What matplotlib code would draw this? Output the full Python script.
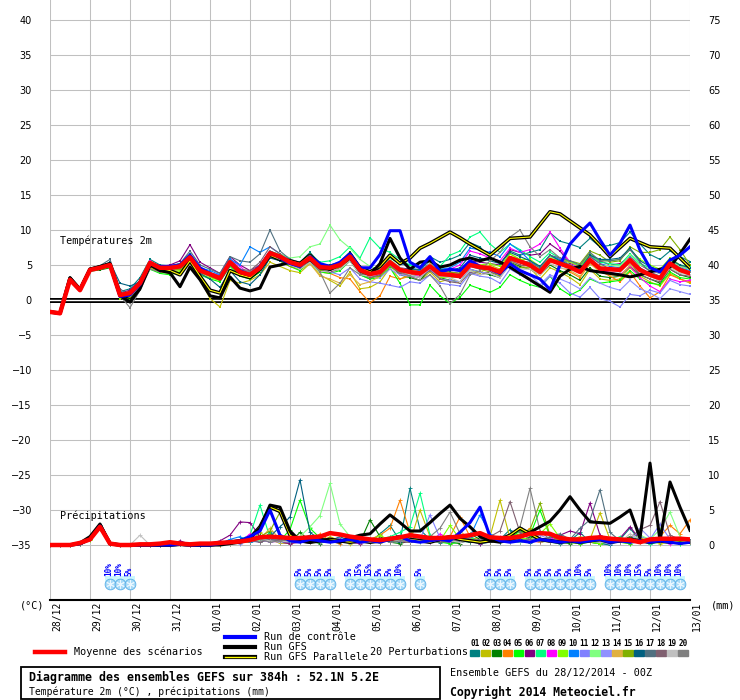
import numpy as np
import matplotlib.pyplot as plt
from matplotlib import transforms
from matplotlib.lines import Line2D
from matplotlib.patches import Rectangle

W, H = 740, 700
MONO = 'DejaVu Sans Mono'

days = ['28/12', '29/12', '30/12', '31/12', '01/01', '02/01', '03/01', '04/01', '05/01',
        '06/01', '07/01', '08/01', '09/01', '10/01', '11/01', '12/01', '13/01']
steps = np.arange(65)  # 6-hourly, 0..384h

# temperature 2m (deg C)
t_mean = [-1.7,-1.9,2.9,1.4, 4.3,4.6,5.0,0.7, 1.0,2.4,5.3,4.6, 4.6,4.8,6.1,4.2, 3.7,3.1,5.4,4.0, 3.6,4.6,6.7,6.2, 5.4,5.0,6.0,4.7, 4.6,5.0,6.2,4.3, 3.7,4.0,5.4,4.3, 4.0,3.8,4.8,3.7, 3.6,3.4,5.0,4.7, 4.5,4.0,6.0,5.5, 5.0,4.0,5.7,5.2, 4.7,4.0,5.7,4.5, 4.4,4.3,5.7,4.3, 3.6,3.1,5.2,4.3, 3.8]
t_ctrl = [-1.7,-1.9,2.9,1.4, 4.3,4.6,5.0,0.5, 0.7,2.2,5.2,4.8, 4.8,5.0,6.4,4.6, 3.8,3.0,5.2,4.2, 3.6,4.8,6.8,6.0, 5.2,4.8,6.2,5.2, 4.8,5.4,6.6,4.6, 4.6,6.5,9.9,9.9, 5.4,4.6,6.2,4.0, 4.4,4.2,5.6,4.8, 4.4,3.8,5.2,4.2, 3.6,3.0,1.5,5.0, 8.0,9.6,11.0,8.6, 6.4,8.1,10.7,7.1, 4.6,4.0,5.7,6.4, 7.6]
t_gfs = [-1.7,-1.9,3.2,1.5, 4.4,4.8,5.2,0.6, -0.3,1.6,5.0,4.2, 3.9,1.9,4.7,2.9, 0.6,0.3,3.3,1.7, 1.3,1.7,4.7,5.0, 5.4,5.0,5.8,4.6, 4.4,5.0,6.0,4.2, 3.6,5.2,8.8,6.0, 4.4,5.4,5.6,4.7, 5.0,5.7,6.0,5.6, 6.0,5.4,4.7,3.8, 2.9,2.0,1.1,3.4, 4.4,4.8,4.2,4.0, 3.8,3.6,3.3,3.6, 4.0,4.4,4.7,6.6, 8.7]
t_para = [-1.7,-1.9,3.1,1.5, 4.4,4.7,5.1,0.8, 0.4,2.0,5.2,4.4, 4.2,3.6,5.6,3.4, 1.4,1.0,4.2,3.6, 3.2,4.4,6.4,5.8, 5.6,5.2,6.4,5.0, 4.4,5.2,6.6,4.6, 4.0,4.8,6.4,5.2, 6.0,7.4,8.1,8.9, 9.7,8.9,8.0,7.2, 6.4,7.6,8.8,8.9, 9.0,10.8,12.6,12.3, 11.3,10.3,9.3,7.8, 6.2,7.5,8.8,8.2, 7.6,7.5,7.4,6.0, 4.6]

t01 = [-1.7,-1.9,3.0,1.5, 4.4,4.8,5.3,1.2, 1.6,3.2,5.8,5.0, 4.9,5.2,6.6,4.6, 3.9,3.5,5.9,4.4, 3.2,4.0,6.2,5.8, 5.6,5.4,6.8,5.2, 4.2,4.6,5.8,3.6, 3.0,3.8,6.0,5.2, 5.0,4.6,6.2,5.4, 5.8,6.4,8.2,7.6, 6.0,5.2,7.0,6.4, 6.8,7.2,9.6,8.4, 8.0,7.5,8.8,7.6, 7.8,8.2,9.7,8.0, 6.5,5.8,7.0,6.2, 5.5]
t02 = [-1.7,-1.9,2.9,1.4, 4.2,4.5,4.8,0.4, 0.5,2.0,4.6,4.0, 3.8,4.2,5.4,3.0, 0.2,-1.0,2.8,2.4, 2.8,3.6,5.4,4.8, 4.2,3.9,5.2,3.6, 2.8,2.0,4.0,1.6, 1.8,2.6,4.6,3.0, 3.4,2.8,4.0,2.6, 3.0,2.4,4.2,3.8, 5.0,4.4,6.6,5.8, 4.6,3.0,4.6,4.0, 3.2,2.2,4.4,3.0, 2.8,3.0,4.6,3.4, 2.6,2.0,3.8,3.0, 2.4]
t03 = [-1.7,-1.9,2.9,1.4, 4.1,4.3,4.6,0.2, 0.6,2.2,5.0,4.4, 4.4,4.6,5.8,4.0, 3.4,2.8,5.0,3.8, 3.8,4.8,7.0,6.4, 5.6,5.2,6.4,5.0, 5.0,5.4,6.8,4.8, 4.0,4.2,5.0,3.6, 3.2,2.8,4.4,3.2, 2.8,2.6,4.4,4.0, 3.6,3.2,5.4,4.8, 4.4,3.6,5.0,4.2, 3.6,2.8,4.6,3.4, 3.2,3.4,4.8,3.6, 3.0,2.4,4.4,3.6, 3.2]
t04 = [-1.7,-1.9,2.9,1.4, 4.3,4.6,5.1,0.9, 1.2,2.8,5.6,4.8, 4.5,4.6,6.0,4.0, 3.6,3.0,5.6,4.2, 3.4,4.2,6.4,5.6, 4.8,4.4,5.6,4.0, 3.8,3.2,3.0,1.2, -0.4,0.6,3.4,3.0, 3.6,3.8,5.0,3.8, 3.4,3.6,5.6,5.0, 4.8,4.2,6.2,5.8, 5.2,4.4,6.0,5.4, 4.0,3.2,5.2,4.2, 3.4,2.6,4.0,2.0, 0.3,1.2,3.6,3.0, 2.6]
t05 = [-1.7,-1.9,2.9,1.4, 4.2,4.4,4.7,0.4, 0.2,1.8,4.4,3.8, 3.6,4.0,5.6,3.6, 3.0,2.6,4.8,3.4, 3.0,4.0,6.2,5.6, 4.8,4.2,5.4,4.0, 3.8,4.2,5.6,3.6, 3.0,3.2,4.6,2.4, -0.7,-0.7,2.1,0.6, -0.5,0.4,2.1,1.6, 1.1,1.8,3.6,2.8, 2.2,1.8,3.4,1.6, 0.7,1.4,3.0,2.4, 2.6,2.8,4.2,3.0, 2.4,2.2,4.0,3.2, 3.0]
t06 = [-1.7,-1.9,2.9,1.4, 4.4,4.7,5.2,1.0, 1.4,2.8,5.4,4.8, 5.0,5.6,7.9,5.4, 4.6,3.8,6.2,5.0, 4.2,5.0,6.8,6.2, 5.2,4.8,5.8,4.4, 4.8,5.4,6.6,4.6, 4.2,4.4,5.6,4.6, 4.4,4.2,5.2,4.2, 4.0,3.8,5.6,5.4, 5.2,5.0,7.2,6.8, 6.4,6.6,8.0,7.0, 5.2,4.8,6.4,5.6, 5.0,5.2,6.2,5.0, 4.2,3.8,5.6,4.8, 4.4]
t07 = [-1.7,-1.9,2.9,1.4, 4.3,4.5,4.9,0.6, 0.9,2.4,5.4,4.6, 4.6,4.7,6.0,4.2, 3.8,3.4,5.6,4.4, 3.8,4.8,6.8,6.4, 5.6,5.4,6.6,5.4, 5.6,6.2,7.6,6.0, 8.9,7.4,6.8,5.8, 5.0,4.6,5.8,4.8, 6.4,7.0,9.0,9.7, 8.0,6.8,8.0,7.2, 6.2,5.4,6.8,6.0, 5.6,4.8,6.4,5.4, 5.2,5.0,6.6,5.2, 4.6,4.0,5.8,5.0, 4.8]
t08 = [-1.7,-1.9,2.9,1.4, 4.3,4.6,5.0,0.8, 1.0,2.6,5.6,4.6, 4.2,4.4,5.6,3.8, 3.8,3.6,5.8,4.8, 3.6,4.4,6.4,6.0, 5.2,4.8,5.8,4.6, 4.0,4.6,5.8,3.8, 3.4,3.6,5.0,3.8, 3.6,3.4,4.6,3.8, 4.4,5.0,7.0,6.6, 6.0,5.6,7.4,6.8, 7.2,8.0,9.7,7.4, 5.4,4.6,5.8,4.2, 4.0,3.6,4.8,3.2, 2.0,1.2,3.0,2.6, 2.8]
t09 = [-1.7,-1.9,2.9,1.4, 4.2,4.4,4.8,0.2, 0.4,2.0,4.8,4.2, 4.0,4.2,5.6,3.6, 3.2,2.8,5.0,3.8, 3.6,4.6,6.6,6.0, 5.2,4.6,5.6,4.2, 4.6,5.0,6.4,4.6, 4.0,4.2,5.4,4.0, 3.6,3.2,4.2,3.2, 3.2,3.4,5.2,5.0, 5.2,4.8,6.6,5.8, 5.8,4.8,6.2,5.6, 5.4,4.8,6.6,5.6, 5.6,5.8,7.2,5.8, 5.0,4.4,6.0,5.0, 4.6]
t10 = [-1.7,-1.9,2.9,1.4, 4.4,4.6,5.0,0.8, 1.2,2.6,5.4,4.8, 4.8,5.0,6.4,4.6, 4.2,3.6,5.8,5.0, 7.6,6.8,7.6,6.6, 5.8,5.2,6.2,5.0, 4.8,5.2,6.4,4.6, 4.0,4.6,6.2,5.4, 4.6,4.2,5.2,4.4, 4.6,5.4,7.4,7.2, 6.8,6.2,8.0,7.0, 5.6,4.6,6.4,5.8, 5.0,4.4,6.2,5.2, 4.8,4.6,6.0,4.6, 3.8,3.2,5.4,4.6, 4.2]
t11 = [-1.7,-1.9,2.9,1.4, 4.3,4.5,4.9,0.5, 0.8,2.2,5.0,4.4, 4.4,4.6,5.8,4.0, 3.4,3.0,5.2,3.8, 3.4,4.4,6.4,5.8, 5.0,4.6,5.6,4.2, 4.0,3.6,4.6,3.0, 2.6,2.4,2.1,1.8, 2.6,2.4,3.6,2.4, 2.2,2.0,3.8,3.4, 3.2,2.4,4.4,3.6, 2.8,1.8,3.4,2.4, 1.0,0.4,1.8,0.2, -0.2,-1.0,0.8,0.6, 1.4,1.0,2.8,2.2, 2.0]
t12 = [-1.7,-1.9,2.9,1.4, 4.4,4.7,5.1,0.9, 1.2,2.6,5.2,4.6, 4.6,4.8,6.2,4.4, 3.8,3.2,5.4,4.2, 3.8,4.8,6.8,6.6, 6.0,6.2,7.6,8.0, 10.7,8.6,7.4,5.8, 4.8,4.4,5.8,4.6, 4.2,4.0,5.0,4.0, 3.8,3.6,5.2,4.8, 4.6,4.2,6.2,5.6, 5.2,4.6,6.2,5.4, 4.8,4.2,5.8,4.8, 5.0,4.8,6.4,5.0, 4.4,3.8,5.6,4.8, 4.4]
t13 = [-1.7,-1.9,2.9,1.4, 4.2,4.5,4.9,0.6, 0.9,2.4,5.2,4.6, 4.6,4.8,6.2,4.2, 3.6,3.0,5.4,4.0, 3.4,4.4,6.4,5.8, 5.2,4.8,5.8,4.4, 4.2,4.6,5.8,4.0, 3.4,3.2,4.4,3.6, 3.4,3.2,4.4,3.0, 2.8,2.6,4.4,4.0, 3.8,3.2,5.0,4.4, 3.6,2.2,3.6,3.0, 2.4,1.6,3.2,2.4, 1.8,1.4,2.8,1.6, 1.0,0.2,1.6,1.2, 0.8]
t14 = [-1.7,-1.9,2.9,1.4, 4.3,4.6,5.0,0.8, 1.0,2.4,5.2,4.4, 4.2,4.4,5.8,3.8, 3.4,2.8,5.2,3.8, 3.6,4.4,6.4,6.0, 5.0,4.4,5.2,3.4, 3.0,2.4,3.6,2.2, 2.6,3.4,5.2,4.2, 4.2,4.0,5.2,4.0, 3.8,3.6,5.4,5.0, 4.6,3.8,5.8,5.0, 4.4,3.6,5.2,4.6, 4.2,3.4,5.2,4.0, 3.6,3.4,5.0,3.8, 3.4,2.8,4.8,4.0, 3.6]
t15 = [-1.7,-1.9,2.9,1.4, 4.2,4.4,4.8,0.4, 0.6,2.0,4.8,4.2, 4.2,4.4,5.8,4.0, 3.4,2.8,5.0,3.6, 3.2,4.2,6.2,5.6, 4.8,4.4,5.6,4.2, 4.2,4.6,5.8,4.0, 3.2,3.4,4.8,3.8, 4.2,4.4,5.8,4.4, 4.0,3.8,5.2,4.4, 4.0,3.4,5.4,4.6, 4.6,3.8,5.8,5.6, 5.6,5.2,7.0,6.4, 5.4,5.6,7.6,6.8, 6.8,7.2,9.0,7.2, 5.0]
t16 = [-1.7,-1.9,2.9,1.4, 4.4,4.8,5.4,2.4, 2.0,2.6,5.0,4.4, 4.4,4.6,5.8,3.8, 3.0,1.8,4.2,2.6, 2.2,3.6,6.0,5.6, 5.0,4.6,5.8,4.6, 4.6,5.0,6.4,4.4, 3.8,4.2,5.6,4.4, 4.4,4.4,5.6,4.4, 4.2,4.6,6.4,6.0, 5.6,5.2,6.8,6.2, 5.6,4.8,6.4,5.6, 5.0,4.4,6.4,5.8, 5.8,6.0,7.4,5.6, 4.8,4.2,5.8,5.0, 4.6]
t17 = [-1.7,-1.9,2.9,1.4, 4.5,4.9,5.8,1.6, 0.6,1.8,4.8,4.2, 4.8,5.2,7.0,5.0, 4.4,3.8,6.2,5.6, 5.4,6.6,10.0,7.0, 5.8,5.4,6.4,5.0, 4.4,4.8,6.0,4.2, 3.6,3.8,5.2,4.2, 4.0,3.6,4.6,3.4, 3.4,3.2,4.8,4.4, 4.4,4.0,6.2,5.6, 5.4,4.6,6.4,6.0, 5.6,5.0,6.8,5.6, 5.6,5.8,7.2,5.4, 4.0,3.4,5.0,4.2, 4.0]
t18 = [-1.7,-1.9,2.9,1.4, 4.3,4.6,5.0,0.7, 0.8,2.2,5.0,4.4, 4.6,4.8,6.0,4.2, 3.8,3.4,5.6,4.4, 4.2,5.4,7.6,6.6, 5.4,4.8,5.8,4.4, 4.0,4.4,5.6,3.8, 3.2,3.6,5.0,3.8, 3.6,3.2,4.2,3.0, 2.6,2.4,4.0,3.6, 4.0,3.6,5.6,5.0, 4.8,4.0,5.6,5.0, 4.6,4.2,6.2,5.2, 4.4,4.2,5.4,3.6, 3.0,2.6,4.4,3.6, 3.4]
t19 = [-1.7,-1.9,2.9,1.4, 4.2,4.5,4.9,0.5, 0.9,2.3,5.2,4.6, 4.6,4.8,6.2,4.2, 3.6,3.0,5.2,3.8, 3.4,4.2,6.2,5.8, 5.0,4.4,5.4,4.0, 4.2,4.4,5.6,3.6, 3.4,3.8,5.2,4.0, 3.6,3.2,4.6,3.4, 3.2,2.6,4.2,3.6, 3.8,3.2,5.2,4.4, 4.4,3.6,5.2,4.6, 4.4,3.8,5.4,4.4, 4.2,4.0,5.4,4.0, 3.4,2.8,4.6,3.8, 3.6]
t20 = [-1.7,-1.9,2.9,1.4, 4.4,4.7,5.1,0.6, -1.1,1.4,4.4,4.0, 4.4,4.6,6.0,4.2, 3.6,3.2,5.6,4.4, 4.0,5.0,7.0,6.4, 5.2,4.6,5.6,4.0, 1.0,2.4,4.6,3.6, 3.8,4.0,5.2,4.0, 3.4,2.8,3.6,2.0, -0.5,0.8,3.6,4.2, 5.6,6.8,9.0,10.0, 7.6,6.2,7.2,6.0, 5.0,4.2,5.6,4.6, 4.6,4.4,5.8,4.4, 3.8,3.4,5.2,4.4, 4.0]

# precipitation (mm per 6h)
r_mean = [0,0,0,0.3, 0.8,2.6,0.2,0, 0,0.1,0.1,0.2, 0.4,0.2,0.1,0.2, 0.2,0.3,0.4,0.5, 0.7,1.1,1.2,1.1, 1.0,1.0,1.1,1.2, 1.7,1.5,1.2,1.0, 0.8,0.7,0.9,1.1, 1.4,1.2,1.0,1.0, 1.1,1.2,1.4,1.7, 1.1,1.0,1.0,1.2, 1.6,1.7,1.6,1.0, 0.8,0.8,1.0,1.1, 0.9,0.8,0.7,0.4, 0.8,0.9,0.9,0.9, 0.8]
r_ctrl = [0,0,0,0.2, 0.8,2.7,0.2,0, 0,0,0,0, 0,0.1,0,0, 0,0.2,0.4,0.6, 1.2,2.0,5.0,1.4, 0.6,0.4,0.8,0.6, 0.4,0.6,0.8,0.4, 0.6,0.4,0.8,1.2, 0.6,0.4,0.6,0.8, 0.6,1.8,3.2,5.4, 1.2,0.6,0.4,0.6, 0.4,0.8,0.6,0.4, 0.6,0.4,0.6,0.8, 0.4,0.6,0.4,0.6, 0.4,0.6,0.4,0.2, 0.4]
r_gfs = [0,0,0,0.3, 1.2,3.0,0.2,0, 0,0,0,0, 0,0.1,0,0, 0,0,0.2,0.4, 1.0,2.4,5.7,5.4, 2.0,0.6,0.4,0.8, 0.6,0.4,1.0,1.4, 1.6,3.0,4.3,3.2, 2.0,2.0,3.2,4.5, 5.7,3.8,2.6,1.2, 0.6,0.4,0.8,1.2, 1.8,2.6,3.4,5.0, 6.9,5.0,3.3,3.2, 3.1,4.0,5.0,1.0, 11.7,0.6,9.0,5.4, 2.1]
r_para = [0,0,0,0.2, 0.9,2.8,0.2,0, 0,0,0,0, 0,0.1,0,0, 0,0.2,0.4,0.6, 1.0,2.6,5.4,4.8, 1.4,0.6,0.4,0.6, 0.8,0.6,0.4,0.6, 0.4,0.6,0.8,1.2, 0.8,0.6,0.4,0.8, 1.2,0.8,0.6,0.4, 0.6,0.8,1.4,2.4, 1.6,0.8,0.6,0.4, 0.6,0.4,0.6,0.8, 0.4,0.6,0.8,0.6, 0.4,0.6,0.4,0.6, 0.4]

r01 = [0,0,0,0.2, 0.9,2.8,0.3,0, 0,0,0.1,0, 0,0.2,0,0, 0,0.1,0.3,0.6, 1.2,0.4,1.8,0.6, 0.3,0.8,1.4,0.4, 0.6,1.2,0.5,0.8, 0.4,1.6,2.8,0.6, 8.1,2.2,0.8,0.3, 0.6,1.4,0.5,0.2, 0.4,0.8,2.2,0.6, 0.3,1.0,0.4,0.2, 0.6,1.8,0.4,0.2, 0,0.8,2.4,0.6, 0.2,1.2,0.6,0.4, 0.3]
r02 = [0,0,0,0.1, 0.7,2.4,0.2,0, 0,0,0,0, 0.1,0.3,0,0, 0,0,0.2,0.4, 0.6,1.8,0.8,0.3, 0.2,0.6,1.0,0.4, 1.2,0.6,0.2,0.8, 0.4,0.3,1.1,0.6, 0.4,5.0,1.2,0.6, 0.2,0.6,1.0,0.8, 1.2,6.4,1.0,0.4, 0.8,0.6,0.4,1.4, 0.6,1.2,0.8,4.6, 0.8,0.4,0.2,1.0, 0.6,0.2,0.4,1.0, 0.6]
r03 = [0,0,0,0.2, 0.8,2.5,0.1,0, 0,0,0,0.1, 0,0.1,0,0, 0,0.2,0.4,0.3, 0.8,1.4,0.6,1.2, 0.4,1.8,0.6,0.2, 0.8,0.6,1.2,0.4, 3.6,1.2,0.4,0.2, 0.6,0.8,0.4,1.0, 0.4,0.2,1.6,0.8, 0.4,1.0,0.6,0.4, 1.2,0.6,0.8,0.4, 0.2,0.6,0.4,0.2, 0.4,0.6,1.2,0.6, 0.8,0.4,1.0,0.6, 0.4]
r04 = [0,0,0,0.2, 0.9,2.6,0.2,0, 0,0,0,0, 0,0.2,0.1,0, 0.1,0,0.2,0.4, 0.4,1.0,0.6,0.4, 1.0,0.6,0.4,1.6, 0.6,0.2,1.0,0.6, 0.8,1.4,2.4,6.4, 1.8,0.6,0.4,0.8, 1.2,4.0,1.2,0.6, 0.4,0.8,0.6,1.2, 2.4,0.8,0.4,0.6, 0.4,0.2,0.8,0.6, 0.4,1.0,0.6,0.8, 0.4,1.2,2.8,1.6, 3.6]
r05 = [0,0,0,0.1, 0.8,2.4,0.2,0, 0,0,0,0, 0,0.1,0,0.1, 0,0.1,0.2,0.6, 0.4,0.8,1.6,0.6, 2.2,6.4,2.4,1.0, 0.4,0.8,0.6,0.4, 0.6,0.8,0.4,1.2, 0.6,0.4,0.8,0.4, 0.2,0.4,0.6,0.8, 0.4,0.6,1.0,2.0, 1.4,5.0,1.2,0.6, 0.4,0.2,0.4,0.2, 0.6,0.4,0.2,0.8, 0.4,0.6,0.4,0.2, 0.4]
r06 = [0,0,0,0.2, 0.8,2.7,0.2,0, 0,0,0,0, 0,0.6,0.1,0, 0.2,0.6,1.4,3.3, 3.2,1.2,0.6,0.4, 0.2,0.4,0.8,0.6, 0.4,0.6,0.4,0.2, 0.6,0.4,0.8,0.4, 0.4,0.6,1.0,0.4, 0.8,0.4,0.6,0.2, 0.6,0.4,0.8,0.6, 0.4,0.6,1.0,1.4, 2.0,1.6,6.0,1.4, 0.6,1.0,2.6,0.8, 0.4,0.6,0.4,0.8, 0.4]
r07 = [0,0,0,0.2, 0.8,2.6,0.2,0, 0,0,0,0, 0,0.1,0,0, 0,0.2,0.4,0.8, 1.4,5.7,1.0,0.6, 0.8,0.4,0.6,1.2, 0.6,0.8,0.4,0.6, 0.4,0.8,1.2,1.8, 2.6,7.4,1.4,0.6, 0.8,0.6,1.2,0.4, 0.6,0.4,0.8,0.6, 0.8,0.4,0.6,0.6, 0.4,0.6,0.8,0.4, 0.6,1.2,0.4,0.6, 0.2,0.4,0.6,0.2, 0.4]
r08 = [0,0,0,0.2, 0.9,2.5,0.3,0, 0,0,0,0, 0.1,0.2,0,0, 0,0.1,0.2,0.4, 1.6,0.8,0.4,0.6, 0.4,0.6,0.8,0.4, 0.6,0.4,1.0,0.8, 0.4,0.6,0.8,0.6, 0.8,0.6,0.4,1.6, 0.6,1.0,0.8,0.4, 0.4,1.2,0.6,0.8, 0.6,0.4,1.0,0.6, 0.4,0.6,0.4,0.8, 1.0,0.6,0.4,0.6, 0.4,0.8,0.2,0.6, 0.4]
r09 = [0,0,0,0.2, 0.7,2.3,0.1,0, 0,0,0,0, 0,0.1,0,0, 0,0.3,0.2,0.6, 0.8,0.4,1.2,0.8, 0.4,1.0,0.6,0.8, 0.6,0.4,0.8,0.4, 0.6,1.4,0.6,0.8, 0.4,0.8,1.2,0.6, 2.8,0.8,0.4,0.6, 0.6,0.4,0.8,1.0, 0.8,1.6,3.0,1.0, 0.4,0.6,0.4,0.2, 0.6,0.8,0.6,0.4, 0.6,0.4,0.8,0.6, 0.4]
r10 = [0,0,0,0.2, 0.8,2.6,0.2,0, 0,0,0,0, 0,0.2,0,0, 0,0.2,0.8,1.2, 0.4,0.6,0.8,0.4, 0.6,0.4,1.2,0.6, 0.8,0.6,0.4,0.8, 0.6,0.4,0.6,1.0, 1.4,0.6,0.8,0.6, 0.4,0.8,1.2,4.3, 1.6,0.8,0.4,0.6, 0.4,0.8,0.6,0.4, 0.6,0.4,0.8,0.4, 0.6,0.4,0.6,0.8, 0.4,0.6,0.4,0.4, 0.6]
r11 = [0,0,0,0.2, 0.8,2.5,0.2,0, 0,0,0,0, 0,0.1,0,0, 0,0.2,0.4,0.2, 0.6,0.4,0.8,0.6, 0.4,0.6,0.8,0.4, 0.6,1.0,0.4,0.6, 0.4,0.6,0.8,1.2, 1.6,0.8,4.3,1.0, 0.6,0.4,0.6,0.8, 0.4,0.6,0.8,0.4, 0.6,0.8,0.4,0.6, 0.8,0.4,0.6,0.4, 0.2,0.4,0.8,1.2, 0.8,3.0,0.8,0.4, 0.6]
r12 = [0,0,0,0.2, 0.9,2.7,0.2,0, 0,0,0,0, 0,0.2,0,0, 0,0.1,0.3,0.6, 0.8,0.6,1.0,0.8, 0.6,1.2,2.6,4.2, 8.8,3.0,1.2,0.8, 0.6,0.4,0.8,0.6, 0.4,1.2,0.6,0.4, 0.8,0.6,0.4,0.6, 1.0,0.8,0.6,0.4, 0.6,0.8,0.4,0.6, 0.4,0.6,0.8,0.6, 0.8,0.4,0.6,1.4, 0.8,2.2,4.7,1.2, 0.6]
r13 = [0,0,0,0.2, 0.8,2.6,0.2,0, 0,0,0,0, 0,0.1,0,0, 0,0.2,0.3,0.4, 0.6,0.8,0.4,0.6, 0.8,0.4,0.6,0.8, 0.4,0.6,0.8,0.4, 0.6,0.8,0.4,0.6, 0.8,0.6,0.4,0.6, 0.4,0.6,0.8,0.6, 0.8,0.4,0.6,0.8, 0.6,1.4,0.8,0.4, 0.6,0.4,0.6,0.8, 0.4,0.6,0.4,2.4, 1.0,0.6,0.4,0.6, 0.4]
r14 = [0,0,0,0.2, 0.8,2.6,0.2,0, 0,0,0,0, 0,0.2,0,0, 0,0.1,0.2,0.4, 0.6,0.8,2.4,0.8, 0.6,0.4,0.8,0.6, 0.4,0.8,0.6,0.4, 0.6,0.4,0.8,0.6, 0.4,0.6,0.8,0.4, 0.6,2.0,0.8,0.6, 0.4,0.6,0.4,0.8, 0.6,0.4,0.6,0.4, 0.8,0.6,0.4,0.6, 0.4,0.8,0.6,0.4, 0.6,0.4,0.8,0.6, 0.4]
r15 = [0,0,0,0.2, 0.8,2.5,0.2,0, 0,0,0,0, 0,0.1,0,0, 0,0.2,0.3,0.6, 0.8,1.2,2.0,4.7, 1.2,0.6,0.4,0.8, 0.6,0.4,0.8,0.6, 0.4,0.6,0.8,0.4, 0.6,0.8,0.6,0.4, 0.6,0.4,0.8,0.6, 0.4,0.8,1.2,1.6, 2.2,6.0,1.4,0.6, 0.4,0.6,0.8,0.4, 0.6,0.4,0.8,0.6, 0.4,0.6,0.4,0.6, 0.4]
r16 = [0,0,0,0.2, 0.8,2.6,0.2,0, 0,0,0,0, 0,0.1,0,0, 0,0.2,0.4,0.6, 0.6,1.0,1.2,2.6, 4.0,9.3,1.8,0.8, 0.6,0.4,0.8,0.6, 0.4,0.8,0.6,0.4, 0.8,0.6,1.0,0.6, 0.4,0.6,0.4,0.8, 0.6,0.4,0.6,0.8, 0.4,0.8,0.6,0.4, 0.6,0.4,0.8,0.6, 0.4,0.6,0.4,0.8, 0.6,0.4,0.6,0.4, 0.6]
r17 = [0,0,0,0.2, 0.8,2.6,0.2,0, 0,0,0,0, 0,0.2,0,0, 0,0.1,0.2,0.4, 0.6,0.8,0.6,0.8, 0.4,0.6,0.8,1.0, 0.6,0.4,0.6,0.8, 0.4,0.6,1.0,0.6, 0.4,0.8,0.6,0.4, 0.6,0.8,0.6,0.4, 0.6,0.8,0.4,0.6, 0.8,0.6,1.2,1.6, 0.8,2.4,3.6,7.9, 1.8,0.6,0.4,0.6, 0.4,0.6,0.8,0.4, 0.6]
r18 = [0,0,0,0.2, 0.8,2.6,0.2,0, 0,0,0,0, 0,0.2,0,0, 0,0.2,0.3,0.4, 0.6,0.4,0.8,0.6, 0.8,0.6,0.4,0.6, 0.6,0.8,0.6,0.4, 0.6,0.4,0.8,0.6, 0.4,0.6,0.8,0.6, 0.4,0.8,0.6,0.8, 1.2,2.0,6.2,1.8, 0.8,0.6,0.4,0.6, 0.4,0.6,0.8,0.6, 0.6,0.8,1.0,2.2, 2.8,6.2,1.4,0.8, 0.6]
r19 = [0,0,0,0.2, 0.8,2.5,0.2,0, 0,1.4,0,0, 0,0.1,0,0, 0,0.2,0.2,0.4, 0.6,0.8,0.6,0.4, 0.6,0.8,0.4,0.6, 0.8,0.6,0.4,0.6, 0.4,0.6,0.8,0.6, 0.6,0.4,0.6,0.8, 0.6,0.4,0.8,0.6, 0.8,0.6,0.4,0.6, 0.4,0.8,0.6,0.4, 0.6,0.8,0.6,0.4, 0.6,0.4,1.6,0.8, 0.4,0.6,0.8,0.6, 0.4]
r20 = [0,0,0,0.2, 0.8,2.6,0.2,0, 0,0,0,0, 0,0.1,0,0, 0,0.2,0.3,0.4, 0.6,0.8,0.4,0.6, 0.8,0.6,0.4,0.6, 0.4,0.6,0.8,1.0, 0.6,0.8,0.4,0.6, 0.8,0.6,1.2,2.4, 4.7,1.6,0.8,0.6, 0.4,0.8,1.2,2.6, 8.1,2.0,0.8,0.4, 0.6,0.4,0.6,0.8, 0.6,0.4,0.6,0.4, 0.6,0.8,0.4,0.6, 0.4]

t_perts = [t01, t02, t03, t04, t05, t06, t07, t08, t09, t10, t11, t12, t13, t14, t15, t16, t17, t18, t19, t20]
r_perts = [r01, r02, r03, r04, r05, r06, r07, r08, r09, r10, r11, r12, r13, r14, r15, r16, r17, r18, r19, r20]
pert_colors = ['#008080', '#c0c000', '#008000', '#ff8000', '#00ff00', '#800080', '#00ff80', '#ff00ff',
               '#80ff00', '#0080ff', '#8080ff', '#80ff80', '#9090ff', '#e0b040', '#80b000', '#006080',
               '#507080', '#806070', '#c0c0c0', '#808080']

# snow probability (step index, %)
snow_idx = [6, 7, 8, 25, 26, 27, 28, 30, 31, 32, 33, 34, 35, 37, 44, 45, 46,
            48, 49, 50, 51, 52, 53, 54, 56, 57, 58, 59, 60, 61, 62, 63]
snow_pct = [10, 10, 5, 5, 5, 5, 5, 5, 15, 15, 5, 5, 10, 5, 5, 5, 5,
            5, 5, 5, 5, 5, 10, 5, 10, 10, 10, 15, 5, 10, 10, 10]

for s in t_perts + r_perts + [t_mean, t_ctrl, t_gfs, t_para, r_mean, r_ctrl, r_gfs, r_para]:
    assert len(s) == 65, len(s)


def px(x, y):
    return x / W, 1 - y / H


fig = plt.figure(figsize=(W / 100, H / 100), dpi=100)
ax = fig.add_axes([50 / W, 1 - 600 / H, 640 / W, 600 / H])
ax.set_xlim(0, 64)
ax.set_ylim(-300 / 7, 300 / 7)
ax.set_xticks(range(0, 65, 4))
ax.set_yticks(range(-35, 41, 5))
ax.grid(True, color='#c0c0c0', lw=0.75)
ax.set_axisbelow(True)
ax.tick_params(length=0, labelbottom=False, labelsize=7, pad=13)
for side in ['left', 'right', 'top']:
    ax.spines[side].set_visible(False)
ax.spines['bottom'].set_linewidth(1.5)

ax2 = ax.twinx()
ax2.set_ylim(-300 / 7 + 35, 300 / 7 + 35)
ax2.set_yticks(range(0, 76, 5))
ax2.tick_params(length=0, labelsize=7, pad=13)
for side in ax2.spines:
    ax2.spines[side].set_visible(False)

# freezing line
ax.axhline(0, color='black', lw=3.6, zorder=1.5)
ax.axhline(0, color='white', lw=1.0, zorder=1.6)

# temperatures
for t, c in zip(t_perts, pert_colors):
    ax.plot(steps, t, color=c, lw=0.8, marker='s', ms=1.6, mew=0, zorder=2)
ax.plot(steps, t_para, color='black', lw=2.6, zorder=3)
ax.plot(steps, t_para, color='#ffff00', lw=0.8, zorder=3.1)
ax.plot(steps, t_gfs, color='black', lw=2.2, zorder=3.2)
ax.plot(steps, t_ctrl, color='#0000ff', lw=2.2, zorder=3.3)
ax.plot(steps, t_mean, color='#ff0000', lw=3.2, zorder=4)

# precipitation on the mm axis
for r, c in zip(r_perts, pert_colors):
    ax2.plot(steps, r, color=c, lw=0.8, marker='+', ms=3, mew=0.6, zorder=2)
ax2.plot(steps, r_para, color='black', lw=2.6, zorder=3)
ax2.plot(steps, r_para, color='#ffff00', lw=0.8, zorder=3.1)
ax2.plot(steps, r_gfs, color='black', lw=2.2, zorder=3.2)
ax2.plot(steps, r_ctrl, color='#0000ff', lw=2.2, zorder=3.3)
ax2.plot(steps, r_mean, color='#ff0000', lw=3.2, zorder=4)

# snow symbols
ax.bar(snow_idx, 0.9, bottom=-40.3, width=1.0, color='#ccf6fc', zorder=1)
ax.scatter(snow_idx, [-40.5] * len(snow_idx), s=60, c='#a8daf6', edgecolors='#58aee8',
           linewidths=0.6, zorder=2)
ax.scatter(snow_idx, [-40.5] * len(snow_idx), s=30, marker=(6, 2, 0), c='#e8f6ff',
           linewidths=0.7, zorder=2.1)
for i, p in zip(snow_idx, snow_pct):
    ax.text(i - 0.1, -39.5, f'{p}%', rotation=90, ha='center', va='bottom', fontsize=5.5,
            color='#0000ff', fontweight='bold', family=MONO)

# date labels
base = transforms.blended_transform_factory(ax.transData, ax.transAxes)
lab_tr = transforms.offset_copy(base, fig=fig, x=7, y=-2, units='dots')
for d, lab in enumerate(days):
    ax.text(d * 4, 0, lab, transform=lab_tr, rotation=90, ha='center', va='top',
            fontsize=7, family=MONO)

fig.text(*px(60, 241), 'Températures 2m', fontsize=7.3, family=MONO, va='center')
fig.text(*px(60, 516), 'Précipitations', fontsize=7.3, family=MONO, va='center')
fig.text(*px(20, 606), '(°C)', fontsize=7.3, family=MONO, va='center')
fig.text(*px(711, 606), '(mm)', fontsize=7.3, family=MONO, va='center')

# legend
fig.add_artist(Line2D([35 / W, 65 / W], [1 - 652 / H] * 2, color='#ff0000', lw=3.2))
fig.text(*px(74, 652), 'Moyenne des scénarios', fontsize=7.3, family=MONO, va='center')
fig.add_artist(Line2D([225 / W, 255 / W], [1 - 637 / H] * 2, color='#0000ff', lw=3.0))
fig.text(*px(264, 637), 'Run de contrôle', fontsize=7.3, family=MONO, va='center')
fig.add_artist(Line2D([225 / W, 255 / W], [1 - 647 / H] * 2, color='black', lw=3.0))
fig.text(*px(264, 647), 'Run GFS', fontsize=7.3, family=MONO, va='center')
fig.add_artist(Line2D([225 / W, 255 / W], [1 - 657 / H] * 2, color='black', lw=3.0))
fig.add_artist(Line2D([225 / W, 255 / W], [1 - 657 / H] * 2, color='#ffff00', lw=1.0))
fig.text(*px(264, 657), 'Run GFS Parallele', fontsize=7.3, family=MONO, va='center')
fig.text(*px(370, 652), '20 Perturbations', fontsize=7.3, family=MONO, va='center')
for k, c in enumerate(pert_colors):
    x0 = 470 + k * 10.95
    fig.add_artist(Rectangle(px(x0, 656), 9.5 / W, 6 / H, color=c))
    fig.text(*px(x0 + 4.75, 644), f'{k + 1:02d}', fontsize=5.5, family=MONO,
             ha='center', va='center', fontweight='bold')

fig.add_artist(Rectangle(px(21, 699), 419 / W, 32 / H, fill=False, lw=1.3, ec='black'))
fig.text(*px(29, 677), 'Diagramme des ensembles GEFS sur 384h : 52.1N 5.2E', fontsize=8.4,
         family=MONO, fontweight='bold', va='center')
fig.text(*px(29, 692), 'Température 2m (°C) , précipitations (mm)', fontsize=7,
         family=MONO, va='center')
fig.text(*px(450, 673), 'Ensemble GEFS du 28/12/2014 - 00Z', fontsize=7.3, family=MONO, va='center')
fig.text(*px(450, 692), 'Copyright 2014 Meteociel.fr', fontsize=8.3, family=MONO,
         fontweight='bold', va='center')

fig.savefig('out.png', dpi=100)
